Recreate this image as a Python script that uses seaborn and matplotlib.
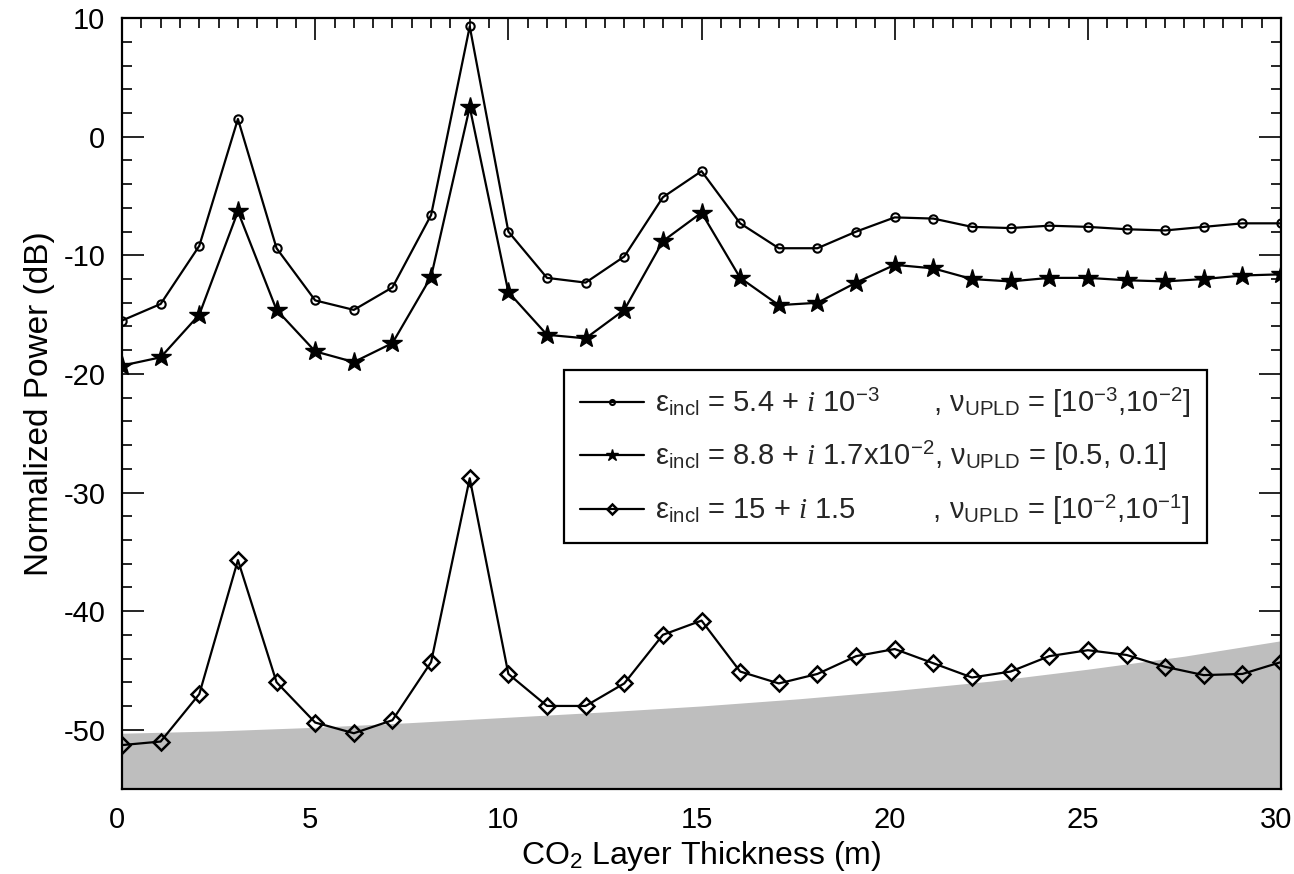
import numpy as np
import pandas as pd
import matplotlib
matplotlib.use("Agg")
import matplotlib.pyplot as plt
import matplotlib.transforms as mtransforms
import seaborn as sns
from matplotlib.ticker import MultipleLocator

# ---------------- data ----------------
thickness = list(range(0, 31))

power_low = [-15.5, -14.1, -9.2, 1.5, -9.4, -13.8, -14.6, -12.7, -6.6, 9.3,
             -8.0, -11.9, -12.3, -10.1, -5.1, -2.9, -7.3, -9.4, -9.4, -8.0,
             -6.8, -6.9, -7.6, -7.7, -7.5, -7.6, -7.8, -7.9, -7.6, -7.3, -7.3]

power_mid = [-19.3, -18.6, -15.0, -6.3, -14.6, -18.1, -19.0, -17.4, -11.8, 2.5,
             -13.1, -16.7, -17.0, -14.6, -8.8, -6.4, -11.9, -14.2, -14.0, -12.3,
             -10.8, -11.1, -12.0, -12.2, -11.9, -11.9, -12.1, -12.2, -12.0, -11.7, -11.6]

power_high = [-51.3, -51.0, -47.0, -35.7, -46.0, -49.4, -50.3, -49.2, -44.3, -28.8,
              -45.3, -48.0, -48.0, -46.1, -42.0, -40.8, -45.1, -46.1, -45.3, -43.8,
              -43.2, -44.4, -45.6, -45.1, -43.8, -43.3, -43.7, -44.7, -45.4, -45.3, -44.3]

floor_x = [0, 2.5, 5, 7.5, 10, 12.5, 15, 17.5, 20, 22.5, 25, 27.5, 30]
floor_y = [-50.3, -50.1, -49.8, -49.4, -48.95, -48.5, -48.0, -47.4, -46.7, -45.9, -44.9, -43.8, -42.5]

label_eps = [
    r'$\mathrm{ε}_{\mathrm{incl}}$ = 5.4 + $\mathit{i}$ 10$^{\mathrm{-3}}$',
    r'$\mathrm{ε}_{\mathrm{incl}}$ = 8.8 + $\mathit{i}$ 1.7x10$^{\mathrm{-2}}$',
    r'$\mathrm{ε}_{\mathrm{incl}}$ = 15 + $\mathit{i}$ 1.5',
]
label_nu = [
    r', $\mathrm{ν}_{\mathrm{UPLD}}$ = [10$^{\mathrm{-3}}$,10$^{\mathrm{-2}}$]',
    r', $\mathrm{ν}_{\mathrm{UPLD}}$ = [0.5, 0.1]',
    r', $\mathrm{ν}_{\mathrm{UPLD}}$ = [10$^{\mathrm{-2}}$,10$^{\mathrm{-1}}$]',
]

# ---------------- style ----------------
sns.set_theme(style="ticks")
plt.rcParams['font.family'] = ['Liberation Sans', 'DejaVu Sans']
plt.rcParams['mathtext.fontset'] = 'custom'
plt.rcParams['mathtext.rm'] = 'Liberation Sans'
plt.rcParams['mathtext.it'] = 'Liberation Serif:italic'
plt.rcParams['mathtext.bf'] = 'Liberation Sans:bold'
plt.rcParams['axes.unicode_minus'] = False

FS_TICK = 21
FS_LEG = 21

fig = plt.figure(figsize=(12.94, 8.74), dpi=100)
ax = fig.add_axes([0.0943, 0.0973, 0.8957, 0.8819])

# --- align the commas in legend labels by measuring text widths ---
renderer = fig.canvas.get_renderer()
def _w(s):
    t = fig.text(0, 0, s, fontsize=FS_LEG)
    w = t.get_window_extent(renderer).width
    t.remove()
    return w
unit = (_w(r'a$\hspace{10}$a') - _w('aa')) / 10.0
widths = [_w(s) for s in label_eps]
target = max(widths)
labels = []
for s, n, w in zip(label_eps, label_nu, widths):
    pad = (target - w) / unit if unit > 0 else 0
    if pad > 0.01:
        labels.append(s + r'$\hspace{%.3f}$' % pad + n)
    else:
        labels.append(s + n)

# gray floor
ax.fill_between(floor_x, floor_y, -55, color='#bebebe', lw=0, zorder=1)

df = pd.DataFrame({'x': thickness, 'a': power_low, 'b': power_mid, 'c': power_high})

sns.lineplot(data=df, x='x', y='a', ax=ax, color='black', lw=1.6, marker='o',
             markersize=6, markerfacecolor='none', markeredgecolor='black',
             markeredgewidth=1.5, label=labels[0], zorder=3)
sns.lineplot(data=df, x='x', y='b', ax=ax, color='black', lw=1.6, marker='*',
             markersize=15, markerfacecolor='black', markeredgecolor='black',
             markeredgewidth=1.0, label=labels[1], zorder=3)
sns.lineplot(data=df, x='x', y='c', ax=ax, color='black', lw=1.6, marker='D',
             markersize=8.5, markerfacecolor='none', markeredgecolor='black',
             markeredgewidth=1.8, label=labels[2], zorder=3)

ax.set_xlim(0, 30)
ax.set_ylim(-55, 10)
ax.xaxis.set_major_locator(MultipleLocator(5))
ax.xaxis.set_minor_locator(MultipleLocator(0.5))
ax.yaxis.set_major_locator(MultipleLocator(10))
ax.yaxis.set_minor_locator(MultipleLocator(2))

for s in ax.spines.values():
    s.set_linewidth(1.6)
    s.set_color('black')
    s.set_zorder(5)

ax.tick_params(which='both', direction='in', top=True, right=True, color='black',
               width=1.2, labelsize=FS_TICK, labelcolor='black')
ax.tick_params(axis='x', which='both', pad=12)
ax.tick_params(axis='y', which='both', pad=12)
ax.tick_params(which='major', length=16)
ax.tick_params(which='minor', length=7.5)

# nudge x tick labels slightly left (as in the reference, keeps "30" inside)
shift = mtransforms.ScaledTranslation(-5 / 100, 0, fig.dpi_scale_trans)
for lab in ax.get_xticklabels():
    lab.set_transform(lab.get_transform() + shift)

ax.set_xlabel(r'CO$_2$ Layer Thickness (m)', fontsize=23, color='black', labelpad=4)
ax.set_ylabel('Normalized Power (dB)', fontsize=24, color='black', labelpad=6)

leg = ax.legend(loc='upper left', bbox_to_anchor=(0.381, 0.5436), borderaxespad=0,
                fontsize=FS_LEG, frameon=True, fancybox=False, framealpha=1,
                edgecolor='black', handlelength=2.2, handletextpad=0.4,
                labelspacing=0.68, borderpad=0.55, markerscale=0.6)
leg.get_frame().set_linewidth(1.6)
leg.set_zorder(6)

fig.savefig('out.png', dpi=100)
